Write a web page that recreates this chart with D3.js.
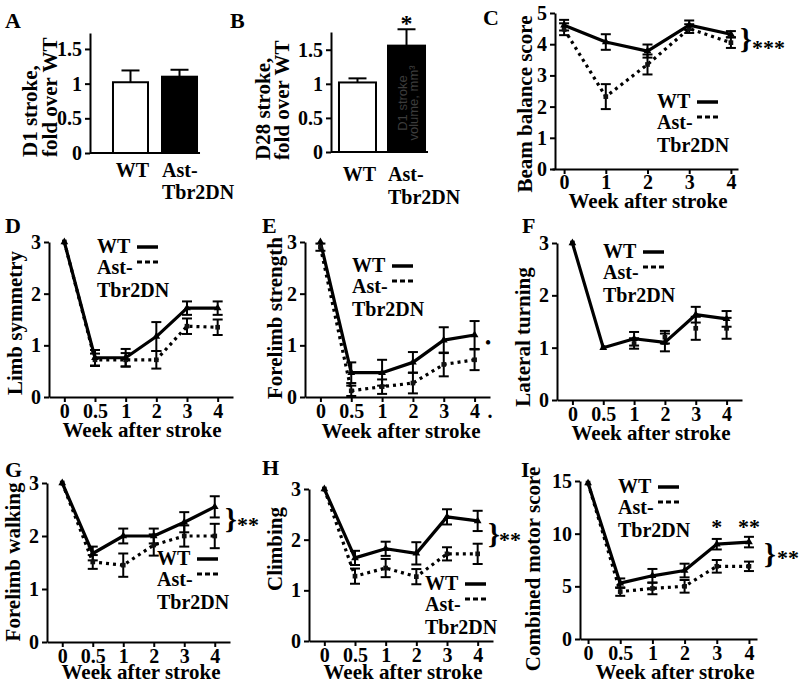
<!DOCTYPE html>
<html><head><meta charset="utf-8">
<script src="https://cdn.jsdelivr.net/npm/d3@7"></script>
<style>
body{margin:0;background:#fff}
svg{display:block}
</style>
</head><body><svg id="fig" width="800" height="684"></svg>
<script>
// ---------------- DATA ----------------
const barGroups = ["WT", "Ast-Tbr2DN"];
const d1Fold = [1.02, 1.10];
const d1Err  = [0.17, 0.10];
const d28Fold = [1.02, 1.56];
const d28Err  = [0.06, 0.24];
const barTicks = [0, 0.5, 1, 1.5];

const weeksC = [0, 1, 2, 3, 4];
const weeks = ["0", "0.5", "1", "2", "3", "4"];

const beamWT = [4.61, 4.07, 3.78, 4.61, 4.32];
const beamWTErr = [0.17, 0.25, 0.21, 0.15, 0.10];
const beamAst = [4.48, 2.32, 3.35, 4.50, 4.05];
const beamAstErr = [0.19, 0.40, 0.32, 0.14, 0.17];

const limbWT = [3, 0.76, 0.76, 1.17, 1.72, 1.72];
const limbWTErr = [0, 0.15, 0.17, 0.28, 0.13, 0.13];
const limbAst = [3, 0.72, 0.72, 0.72, 1.37, 1.35];
const limbAstErr = [0, 0.12, 0.13, 0.17, 0.15, 0.15];

const strWT = [3, 0.47, 0.47, 0.67, 1.10, 1.20];
const strWTErr = [0, 0.20, 0.25, 0.20, 0.25, 0.27];
const strAst = [2.9, 0.12, 0.20, 0.27, 0.63, 0.72];
const strAstErr = [0.07, 0.10, 0.14, 0.20, 0.23, 0.20];

const latWT = [3, 1.0, 1.17, 1.10, 1.63, 1.55];
const latWTErr = [0, 0, 0.13, 0.17, 0.15, 0.15];
const latAst = [3, 1.0, 1.08, 1.20, 1.37, 1.37];
const latAstErr = [0, 0, 0.10, 0.12, 0.22, 0.20];

const walkWT = [3, 1.67, 2.0, 2.0, 2.26, 2.55];
const walkWTErr = [0, 0.13, 0.14, 0.14, 0.19, 0.20];
const walkAst = [3, 1.51, 1.45, 1.83, 2.0, 2.0];
const walkAstErr = [0, 0.13, 0.22, 0.20, 0.20, 0.23];

const climbWT = [3, 1.64, 1.82, 1.73, 2.45, 2.37];
const climbWTErr = [0, 0.14, 0.14, 0.22, 0.15, 0.20];
const climbAst = [3, 1.28, 1.44, 1.27, 1.72, 1.72];
const climbAstErr = [0, 0.15, 0.18, 0.15, 0.13, 0.20];

const motorWT = [14.8, 5.3, 6.0, 6.5, 9.0, 9.2];
const motorWTErr = [0, 0.45, 0.65, 0.65, 0.50, 0.50];
const motorAst = [14.8, 4.5, 4.8, 5.0, 6.9, 6.9];
const motorAstErr = [0, 0.40, 0.55, 0.60, 0.60, 0.45];

const ticks3 = [0, 1, 2, 3];
const ticks5 = [0, 1, 2, 3, 4, 5];
const ticks15 = [0, 5, 10, 15];

// ---------------- DRAWING ----------------
const SERIF = '"Liberation Serif", Tinos, "Times New Roman", serif';
const svg = d3.select("#fig");
const FONT = 20;
const fmt = d3.format("~g");

function serif(sel) {
  return sel.style("font-family", SERIF).style("font-weight", "bold").style("fill", "#000");
}
function txt(parent, s, x, y, size, anchor) {
  return serif(parent.append("text").attr("x", x).attr("y", y)
    .attr("font-size", size).attr("text-anchor", anchor || "start").text(s));
}
function rtxt(parent, s, x, y, size, anchor) {
  return serif(parent.append("text").attr("transform", `translate(${x},${y}) rotate(-90)`)
    .attr("font-size", size).attr("text-anchor", anchor || "middle").text(s));
}
function styleAxis(a) {
  a.attr("font-size", FONT).attr("font-family", null);
  a.select(".domain").attr("stroke-width", 2).attr("stroke", "#000");
  a.selectAll(".tick line").attr("stroke-width", 2).attr("stroke", "#000");
  serif(a.selectAll(".tick text"));
}
function legend(g, lx, ly) {
  txt(g, "WT", lx, ly, 20);
  g.append("line").attr("x1", lx + 40).attr("x2", lx + 61).attr("y1", ly - 6).attr("y2", ly - 6)
    .attr("stroke", "#000").attr("stroke-width", 3.5);
  txt(g, "Ast-", lx, ly + 21, 20);
  g.append("line").attr("x1", lx + 40).attr("x2", lx + 61).attr("y1", ly + 21 - 12).attr("y2", ly + 21 - 12)
    .attr("stroke", "#000").attr("stroke-width", 3).attr("stroke-dasharray", "5,3");
  txt(g, "Tbr2DN", lx, ly + 44, 20);
}

function barPanel(o) {
  const g = svg.append("g");
  const y = d3.scaleLinear().domain([0, o.yMax]).range([o.y0, o.yTop]);
  const x = d3.scaleBand().domain(barGroups).range([o.ax, o.xEnd])
    .paddingInner(o.pi).paddingOuter(o.po);
  g.selectAll("rect.bar").data(o.vals).join("rect")
    .attr("x", (d, i) => x(barGroups[i])).attr("width", x.bandwidth())
    .attr("y", d => y(d)).attr("height", d => y(0) - y(d))
    .attr("fill", (d, i) => i === 0 ? "#fff" : "#000")
    .attr("stroke", "#000").attr("stroke-width", 2);
  o.vals.forEach((v, i) => {
    const cx = x(barGroups[i]) + x.bandwidth() / 2;
    g.append("line").attr("x1", cx).attr("x2", cx).attr("y1", y(v)).attr("y2", y(v + o.errs[i]))
      .attr("stroke", "#000").attr("stroke-width", 2);
    g.append("line").attr("x1", cx - 9).attr("x2", cx + 9).attr("y1", y(v + o.errs[i])).attr("y2", y(v + o.errs[i]))
      .attr("stroke", "#000").attr("stroke-width", 2);
  });
  g.append("line").attr("x1", o.ax).attr("x2", x(barGroups[1]) + x.bandwidth() + 3)
    .attr("y1", y(0)).attr("y2", y(0)).attr("stroke", "#000").attr("stroke-width", 2);
  const ya = g.append("g").attr("transform", `translate(${o.ax},0)`)
    .call(d3.axisLeft(y).tickValues(barTicks).tickFormat(fmt).tickSize(5).tickSizeOuter(0).tickPadding(3));
  styleAxis(ya);
  const cWT = x(barGroups[0]) + x.bandwidth() / 2;
  txt(g, "WT", cWT + 2, o.lab1, 20, "middle");
  txt(g, "Ast-", x(barGroups[1]), o.lab1, 20);
  txt(g, "Tbr2DN", x(barGroups[1]), o.lab2, 20);
  rtxt(g, o.yt1, o.ytx1, o.yty, 21, "start");
  rtxt(g, o.yt2, o.ytx2, o.yty, 21, "start");
  txt(g, o.letter, o.lx, o.ly, 22);
  return {g, x, y};
}

function linePanel(o) {
  const g = svg.append("g");
  const y = d3.scaleLinear().domain([0, o.yMax]).range([o.y0, o.yTop]);
  const x = o.x;
  const cats = o.cats;
  const xa = g.append("g").attr("transform", `translate(0,${o.y0})`)
    .call(d3.axisBottom(x).tickValues(cats).tickFormat(d => String(d)).tickSize(5).tickSizeOuter(0)
      .tickPadding(o.tp != null ? o.tp : 2));
  styleAxis(xa);
  const ya = g.append("g").attr("transform", `translate(${o.ax},0)`)
    .call(d3.axisLeft(y).tickValues(o.yTicks).tickFormat(fmt).tickSize(5).tickSizeOuter(0).tickPadding(3));
  styleAxis(ya);

  const line = d3.line().x((d, i) => x(cats[i])).y(d => y(d));
  if (o.astLine !== false) {
    g.append("path").datum(o.ast).attr("d", line).attr("fill", "none")
      .attr("stroke", "#000").attr("stroke-width", 3.2).attr("stroke-dasharray", "3,4");
  }
  g.append("path").datum(o.wt).attr("d", line).attr("fill", "none")
    .attr("stroke", "#000").attr("stroke-width", 3.2).attr("stroke-linejoin", "round");

  function errs(vals, es) {
    vals.forEach((v, i) => {
      const e = es[i]; if (!e) return;
      const cx = x(cats[i]);
      g.append("line").attr("x1", cx).attr("x2", cx).attr("y1", y(v - e)).attr("y2", y(v + e))
        .attr("stroke", "#000").attr("stroke-width", 2);
      [v - e, v + e].forEach(b => g.append("line").attr("x1", cx - 5).attr("x2", cx + 5)
        .attr("y1", y(b)).attr("y2", y(b)).attr("stroke", "#000").attr("stroke-width", 2));
    });
  }
  errs(o.ast, o.astErr);
  errs(o.wt, o.wtErr);
  g.selectAll("path.mA").data(o.ast).join("path").attr("class", "mA")
    .attr("transform", (d, i) => `translate(${x(cats[i])},${y(d)})`)
    .attr("d", d3.symbol(d3.symbolSquare, 22)).attr("fill", "#111");
  g.selectAll("path.mW").data(o.wt).join("path").attr("class", "mW")
    .attr("transform", (d, i) => `translate(${x(cats[i])},${y(d)})`)
    .attr("d", d3.symbol(d3.symbolTriangle, 26)).attr("fill", "#000");

  txt(g, "Week after stroke", o.xtX, o.xtY, 21, "middle");
  rtxt(g, o.yTitle, o.ytX, o.ytY, 21, "middle");
  txt(g, o.letter, o.lx, o.ly, 22);
  legend(g, o.legX, o.legY);
  return {g, x, y};
}

// ---- A ----
barPanel({vals: d1Fold, errs: d1Err, ax: 90, xEnd: 220, pi: 0.2857, po: 0.469,
  y0: 153, yTop: 33, yMax: 1.73, lab1: 177, lab2: 199,
  yt1: "D1 stroke,", yt2: "fold over WT", ytx1: 37, ytx2: 57, yty: 157,
  letter: "A", lx: 5, ly: 28});

// ---- B ----
const B = barPanel({vals: d28Fold, errs: d28Err, ax: 331, xEnd: 433, pi: 0.245, po: 0.163,
  y0: 152, yTop: 32, yMax: 1.76, lab1: 181, lab2: 204,
  yt1: "D28 stroke,", yt2: "fold over WT", ytx1: 270, ytx2: 289, yty: 160,
  letter: "B", lx: 230, ly: 28});
["D1 stroke", "volume, mm³"].forEach((s, k) => {
  B.g.append("text").attr("transform", `translate(${407 + 11 * k},103) rotate(-90)`).attr("text-anchor", "middle")
    .attr("font-size", 13).style("font-family", "Liberation Sans, Arial, sans-serif").style("font-weight", "normal")
    .style("fill", "#3c3c3c").text(s);
});
txt(B.g, "*", B.x(barGroups[1]) + B.x.bandwidth() / 2, 31, 24, "middle");

// ---- C ----
const C = linePanel({x: d3.scaleLinear().domain([-0.29, 4.17]).range([552, 738]), cats: weeksC,
  ax: 555, y0: 169, yTop: 13, yMax: 5, yTicks: ticks5, tp: 1,
  wt: beamWT, wtErr: beamWTErr, ast: beamAst, astErr: beamAstErr,
  xtX: 648, xtY: 208, yTitle: "Beam balance score", ytX: 532, ytY: 104,
  letter: "C", lx: 483, ly: 25, legX: 657, legY: 108});
txt(C.g, "}", 740, 49, 30);
txt(C.g, "***", 752, 55, 22);

// ---- D ----
linePanel({x: d3.scalePoint().domain(weeks).range([49, 233]).padding(0.5), cats: weeks,
  ax: 49, y0: 397, yTop: 242, yMax: 3, yTicks: ticks3,
  wt: limbWT, wtErr: limbWTErr, ast: limbAst, astErr: limbAstErr,
  xtX: 142, xtY: 437, yTitle: "Limb symmetry", ytX: 22, ytY: 323,
  letter: "D", lx: 5, ly: 233, legX: 97, legY: 253});

// ---- E ----
const E = linePanel({x: d3.scalePoint().domain(weeks).range([305, 490]).padding(0.5), cats: weeks,
  ax: 305, y0: 397, yTop: 242, yMax: 3, yTicks: ticks3,
  wt: strWT, wtErr: strWTErr, ast: strAst, astErr: strAstErr,
  xtX: 401, xtY: 438, yTitle: "Forelimb strength", ytX: 282, ytY: 318,
  letter: "E", lx: 262, ly: 233, legX: 352, legY: 272});
txt(E.g, "•", 488, 348, 16, "middle");
txt(E.g, ".", 490, 418, 20, "middle");

// ---- F ----
linePanel({x: d3.scalePoint().domain(weeks).range([557, 742]).padding(0.5), cats: weeks,
  ax: 557, y0: 400, yTop: 243, yMax: 3, yTicks: ticks3, astLine: false,
  wt: latWT, wtErr: latWTErr, ast: latAst, astErr: latAstErr,
  xtX: 651, xtY: 440, yTitle: "Lateral turning", ytX: 530, ytY: 337,
  letter: "F", lx: 522, ly: 233, legX: 603, legY: 258});

// ---- G ----
const G = linePanel({x: d3.scalePoint().domain(weeks).range([47, 230]).padding(0.5), cats: weeks,
  ax: 47, y0: 642, yTop: 483, yMax: 3, yTicks: ticks3,
  wt: walkWT, wtErr: walkWTErr, ast: walkAst, astErr: walkAstErr,
  xtX: 141, xtY: 679, yTitle: "Forelimb walking", ytX: 20, ytY: 562,
  letter: "G", lx: 5, ly: 477, legX: 157, legY: 565});
txt(G.g, "}", 225, 529, 30);
txt(G.g, "**", 237, 532, 22);

// ---- H ----
const H = linePanel({x: d3.scalePoint().domain(weeks).range([309, 493]).padding(0.5), cats: weeks,
  ax: 309, y0: 641, yTop: 489, yMax: 3, yTicks: ticks3,
  wt: climbWT, wtErr: climbWTErr, ast: climbAst, astErr: climbAstErr,
  xtX: 403, xtY: 679, yTitle: "Climbing", ytX: 282, ytY: 549,
  letter: "H", lx: 262, ly: 475, legX: 425, legY: 590});
txt(H.g, "}", 488, 544, 30);
txt(H.g, "**", 499, 547, 22);

// ---- I ----
const I = linePanel({x: d3.scalePoint().domain(weeks).range([580, 757]).padding(0.25), cats: weeks,
  ax: 580, y0: 639, yTop: 481, yMax: 15, yTicks: ticks15,
  wt: motorWT, wtErr: motorWTErr, ast: motorAst, astErr: motorAstErr,
  xtX: 675, xtY: 679, yTitle: "Combined motor score", ytX: 540, ytY: 569,
  letter: "I", lx: 521, ly: 477, legX: 618, legY: 493});
txt(I.g, "*", I.x("3"), 534, 22, "middle");
txt(I.g, "**", I.x("4"), 534, 22, "middle");
txt(I.g, "}", 764, 564, 30);
txt(I.g, "**", 777, 565, 22);
</script>
</body></html>
